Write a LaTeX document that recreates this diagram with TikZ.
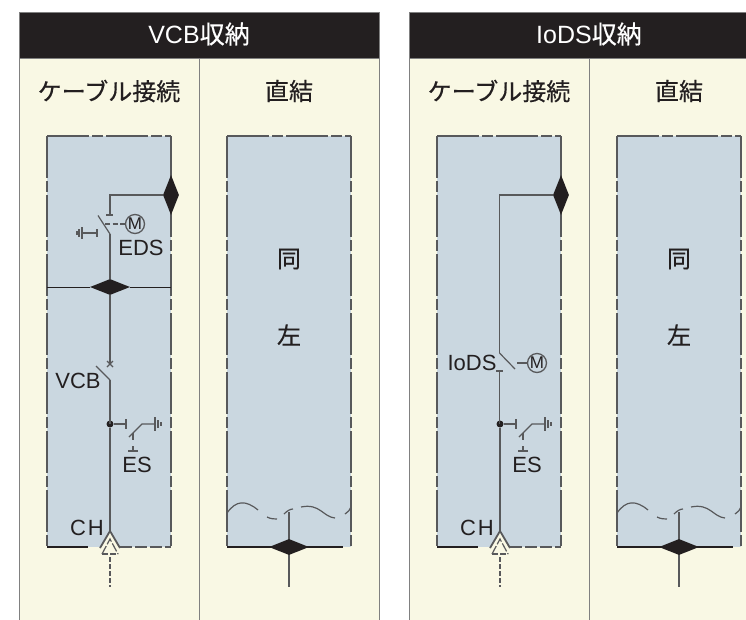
\documentclass[tikz,border=0pt]{standalone}
\usepackage{fontspec}
\setmainfont{Liberation Sans}
\newfontfamily\cjk[FakeBold=0.4]{Noto Sans CJK JP}
\usetikzlibrary{shapes.geometric,positioning}
\definecolor{cream}{HTML}{F9F8E4}
\definecolor{bay}{HTML}{CAD7E0}
\definecolor{ink}{HTML}{231F20}
\definecolor{wire}{HTML}{58595B}
\tikzset{
    panel/.style={draw=gray,line width=1pt,fill=cream},
    header/.style={fill=ink,draw=gray,line width=.6pt},
    bayfill/.style={fill=bay},
    rim/.style={draw=wire,line width=1.7pt,dash pattern=on 42pt off 3pt on 11pt off 3pt},
    rimb/.style={draw=ink,line width=1.2pt},
    rimd/.style={draw=wire,line width=1.3pt,dash pattern=on 12pt off 3pt},
    bus/.style={draw=ink,line width=1pt},
    cable/.style={draw=wire,line width=1.8pt},
    lean/.style={draw=wire,line width=1.2pt},
    link/.style={draw=wire,line width=1.2pt,dash pattern=on 5pt off 2.5pt},
    feed/.style={draw=wire,line width=1.5pt,dash pattern=on 4.5pt off 2.5pt},
    joint/.style={diamond,fill=ink,inner sep=0pt,aspect=2.5,minimum width=40pt,minimum height=16pt},
    jointv/.style={diamond,fill=ink,inner sep=0pt,aspect=.4,minimum width=16pt,minimum height=40pt},
    motor/.style={circle,draw=wire,line width=1.3pt,inner sep=0pt,minimum size=19pt,text=ink,font=\fontsize{17}{17}\selectfont},
    tapdot/.style={circle,fill=ink,inner sep=0pt,minimum size=7pt},
    tag/.style={text=ink,inner sep=0pt,font=\fontsize{22}{22}\selectfont},
    headline/.style={text=ink,inner sep=0pt,font=\cjk\fontsize{24}{24}\selectfont}
}
\begin{document}
\begin{tikzpicture}[x=1pt,y=-1pt]

    \useasboundingbox (0,0) rectangle (746,619);
    \clip (0,0) rectangle (746,619);

    \foreach \px/\heading in {0/VCB,390/IoDS} {
    \begin{scope}[xshift=\px pt]

        % panel
        \draw[panel] (19,58) rectangle (379,640);
        \draw[panel] (199,58) -- (199,640);
        \draw[header] (19,12) rectangle (379,58);
        \node[inner sep=0pt,text=white,font=\fontsize{25}{25}\selectfont] (head) at (199,34) {\heading{\cjk 収納}};
        \node[headline] (cabletitle) at (109,91) {ケーブル接続};
        \node[headline] (directtitle) at (289,91) {直結};

        % bays
        \fill[bayfill] (47,136) rectangle (171,547);
        \fill[bayfill] (227,136) rectangle (351,547);
        \foreach \bx in {47,227} {
            \coordinate (tl) at (\bx,136);
            \coordinate (tr) at (\bx+124,136);
            \coordinate (bl) at (\bx,547);
            \coordinate (br) at (\bx+124,547);
            \draw[rim] (tl) -- (bl);
            \draw[rim] (tr) -- (br);
            \draw[rim] (tl) -- (tr);
        }
        \coordinate (bla) at (47,547);
        \coordinate (blb) at (88,547);
        \coordinate (blc) at (120,547);
        \coordinate (bld) at (171,547);
        \draw[rimb] (bla) -- (blb);
        \draw[rimd] (blc) -- (bld);
        \coordinate (bra) at (227,547);
        \coordinate (brb) at (343,547);
        \draw[rimb] (bra) -- (brb);

        % right hand bay
        \node[headline] (same) at (289,259) {同};
        \node[headline] (left) at (289,335) {左};
        \draw[lean] (227,513) .. controls (236,500) and (246,500) .. (258,510);
        \draw[lean] (267,517) .. controls (271,519) and (274,519) .. (277,519);
        \draw[lean] (284,514) .. controls (287,511) and (290,509) .. (293,509);
        \draw[lean] (301,507) .. controls (320,503) and (323,517) .. (335,518);
        \draw[lean] (345,514) .. controls (348,512) and (350,510) .. (351,507);
        \coordinate (cut) at (289,512);
        \coordinate (out) at (289,587);
        \draw[cable] (cut) -- (out);
        \node[joint] (busr) at (289,547) {};

        % cable end
        \coordinate (apex) at (110,531);
        \coordinate (tfoot) at (110,587);
        \coordinate (ta) at (100,548);
        \coordinate (tb) at (120,548);
        \coordinate (tc) at (110,539);
        \coordinate (td) at (102,554);
        \coordinate (te) at (118,554);
        \coordinate (tf) at (110,557);
        \fill[cream] (apex) -- (ta) -- (tb) -- cycle;
        \fill[cream] (ta) -- (tb) -- (te) -- (td) -- cycle;
        \draw[cable] (ta) -- (apex) -- (tb);
        \draw[lean,dash pattern=on 9pt off 2pt] (td) -- (tc) -- (te);
        \draw[lean,dash pattern=on 6pt off 2pt] (td) -- (te);
        \draw[feed] (tf) -- (tfoot);
        \node[tag] (ch) at (87,528) {C\hspace{2pt}H};

        % earthing switch
        \node[tapdot] (tap) at (110,424) {};
        \coordinate (esa) at (126,424);
        \coordinate (esb) at (129,437);
        \coordinate (esc) at (142,424);
        \coordinate (esd) at (155,424);
        \draw[cable] (apex) -- (tap);
        \draw[lean] (tap) -- (esa);
        \draw[lean] (126,419) -- (126,429);
        \draw[lean] (esb) -- (esc) -- (esd);
        \draw[lean] (155,417) -- (155,431);
        \draw[lean] (158,420) -- (158,428);
        \draw[lean] (161,422) -- (161,426);
        \draw[lean] (133,433) -- (133,440);
        \draw[lean] (133,446) -- (133,451);
        \draw[lean] (128,451) -- (138,451);
        \node[tag] (es) at (137,465) {ES};

    \end{scope}
    }

    % VCB panel
    \node[jointv] (sidea) at (171,195) {};
    \coordinate (edsa) at (110,195);
    \coordinate (edsb) at (110,215);
    \draw[cable] (sidea) -- (edsa) -- (edsb);
    \draw[lean] (106,215) -- (113,215);
    \coordinate (edsc) at (110,234);
    \coordinate (edsd) at (98,215.5);
    \draw[lean] (edsd) -- (edsc);
    \node[motor] (edsm) at (135,224) {M};
    \coordinate (edse) at (105,224);
    \draw[link] (edse) -- (edsm);
    \coordinate (edsf) at (97,233);
    \coordinate (edsg) at (82,233);
    \draw[lean] (edsf) -- (edsg);
    \draw[lean] (97,229) -- (97,237);
    \draw[lean] (82,227) -- (82,239);
    \draw[lean] (79,229) -- (79,237);
    \draw[lean] (77,231) -- (77,235);
    \node[tag] (eds) at (141,248) {EDS};
    \node[joint] (busa) at (110,287) {};
    \coordinate (busl) at (47,287);
    \coordinate (busrr) at (171,287);
    \draw[bus] (busl) -- (busa) -- (busrr);
    \draw[cable] (edsc) -- (busa);
    \coordinate (vcba) at (110,363);
    \coordinate (vcbb) at (110,380);
    \coordinate (vcbc) at (96,366);
    \coordinate (vcbd) at (110,424);
    \draw[cable] (busa) -- (vcba);
    \draw[lean] (107,361) -- (113,367);
    \draw[lean] (113,361) -- (107,367);
    \draw[lean] (vcbc) -- (vcbb);
    \draw[cable] (vcbb) -- (vcbd);
    \node[tag] (vcb) at (78,381) {VCB};

    % IoDS panel
    \node[jointv] (sideb) at (561,195) {};
    \coordinate (iodsa) at (499.5,195);
    \coordinate (iodsb) at (499.5,353);
    \coordinate (iodsc) at (515,369);
    \draw[cable] (sideb) -- (iodsa) -- (iodsb);
    \draw[lean] (iodsb) -- (iodsc);
    \coordinate (iodsd) at (517,363);
    \node[motor] (iodsm) at (537,363) {M};
    \draw[lean] (iodsd) -- (iodsm);
    \coordinate (iodse) at (499.5,371);
    \coordinate (iodsf) at (499.5,424);
    \draw[lean] (496,371) -- (503,371);
    \draw[cable] (iodse) -- (iodsf);
    \node[tag] (iods) at (472,363) {IoDS};

\end{tikzpicture}
\end{document}
